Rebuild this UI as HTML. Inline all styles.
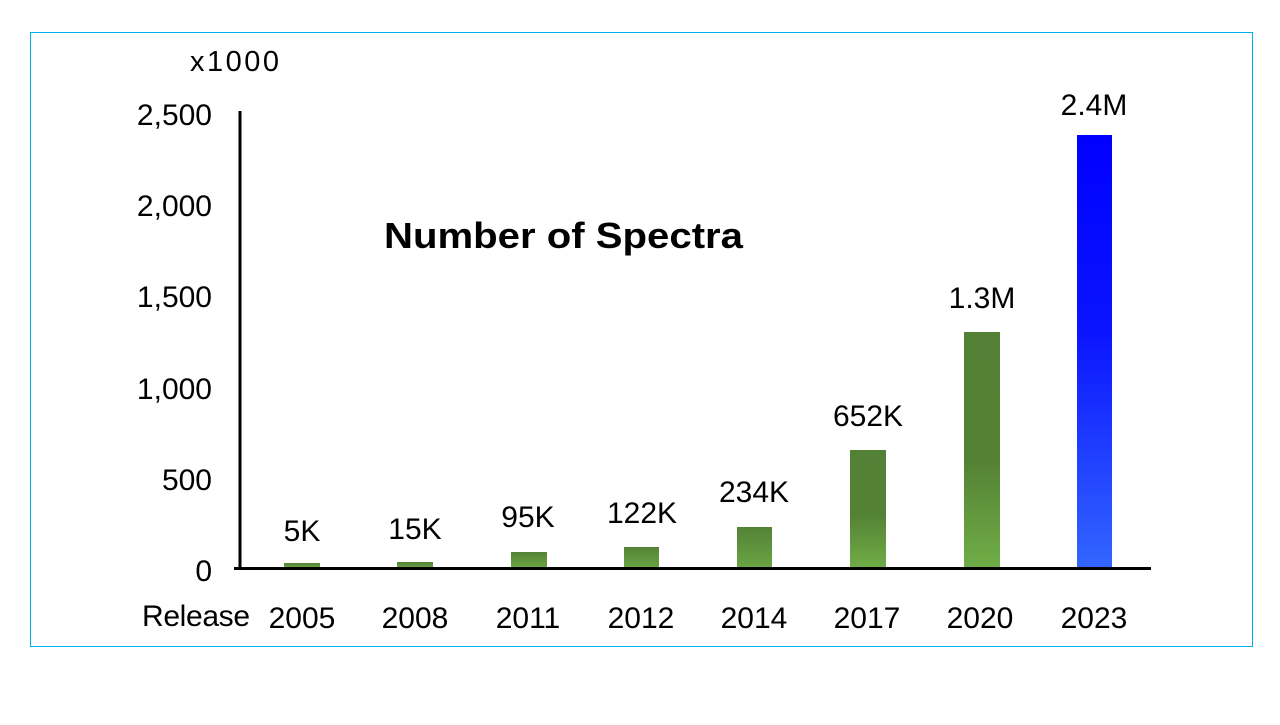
<!DOCTYPE html>
<html><head><style>
body{margin:0;width:1280px;height:720px;background:#fff;overflow:hidden}
</style></head><body>
<svg width="1280" height="720" xmlns="http://www.w3.org/2000/svg" font-family="Liberation Sans, sans-serif">
<defs>
<linearGradient id="g" x1="0" y1="0" x2="0" y2="1">
<stop offset="0" stop-color="#538135"/><stop offset="0.55" stop-color="#548235"/><stop offset="1" stop-color="#70ad47"/></linearGradient>
<linearGradient id="gs" x1="0" y1="0" x2="0" y2="1">
<stop offset="0" stop-color="#548235"/><stop offset="1" stop-color="#6aa544"/></linearGradient>
<linearGradient id="b" x1="0" y1="0" x2="0" y2="1">
<stop offset="0" stop-color="#0000ff"/><stop offset="0.45" stop-color="#0a14ff"/><stop offset="1" stop-color="#3366ff"/></linearGradient>
</defs>
<rect x="30.5" y="32.5" width="1222" height="614" fill="none" stroke="#00b0f0" stroke-width="1"/>
<g fill="url(#gs)">
<rect x="284" y="563" width="36" height="5"/>
<rect x="397" y="562" width="36" height="6"/>
<rect x="511" y="552" width="36" height="16"/>
<rect x="624" y="547" width="35" height="21"/>
<rect x="737" y="527" width="35" height="41"/>
</g>
<rect x="850" y="450" width="36" height="118" fill="url(#g)"/>
<rect x="964" y="332" width="36" height="236" fill="url(#g)"/>
<rect x="1077" y="135" width="35" height="433" fill="url(#b)"/>
<line x1="240" y1="111" x2="240" y2="570" stroke="#000" stroke-width="3"/>
<line x1="234" y1="568.5" x2="1151" y2="568.5" stroke="#000" stroke-width="3"/>
<g font-size="30" fill="#000" text-anchor="end">
<text x="212" y="125">2,500</text>
<text x="212" y="216">2,000</text>
<text x="212" y="307">1,500</text>
<text x="212" y="399">1,000</text>
<text x="212" y="490">500</text>
<text x="212" y="581">0</text>
</g>
<text x="190" y="71" font-size="29" textLength="89">x1000</text>
<text x="384" y="248" font-size="36" font-weight="bold" textLength="359" lengthAdjust="spacingAndGlyphs">Number of Spectra</text>
<g font-size="30" text-anchor="middle">
<text x="302" y="541">5K</text>
<text x="415" y="539">15K</text>
<text x="528" y="527">95K</text>
<text x="642" y="523">122K</text>
<text x="754" y="502">234K</text>
<text x="868" y="426">652K</text>
<text x="982" y="308">1.3M</text>
<text x="1094" y="115">2.4M</text>
</g>
<g font-size="30" text-anchor="middle">
<text x="196" y="626" textLength="108">Release</text>
<text x="302" y="628">2005</text>
<text x="415" y="628">2008</text>
<text x="528" y="628">2011</text>
<text x="641" y="628">2012</text>
<text x="754" y="628">2014</text>
<text x="867" y="628">2017</text>
<text x="980" y="628">2020</text>
<text x="1094" y="628">2023</text>
</g>
</svg>
</body></html>
